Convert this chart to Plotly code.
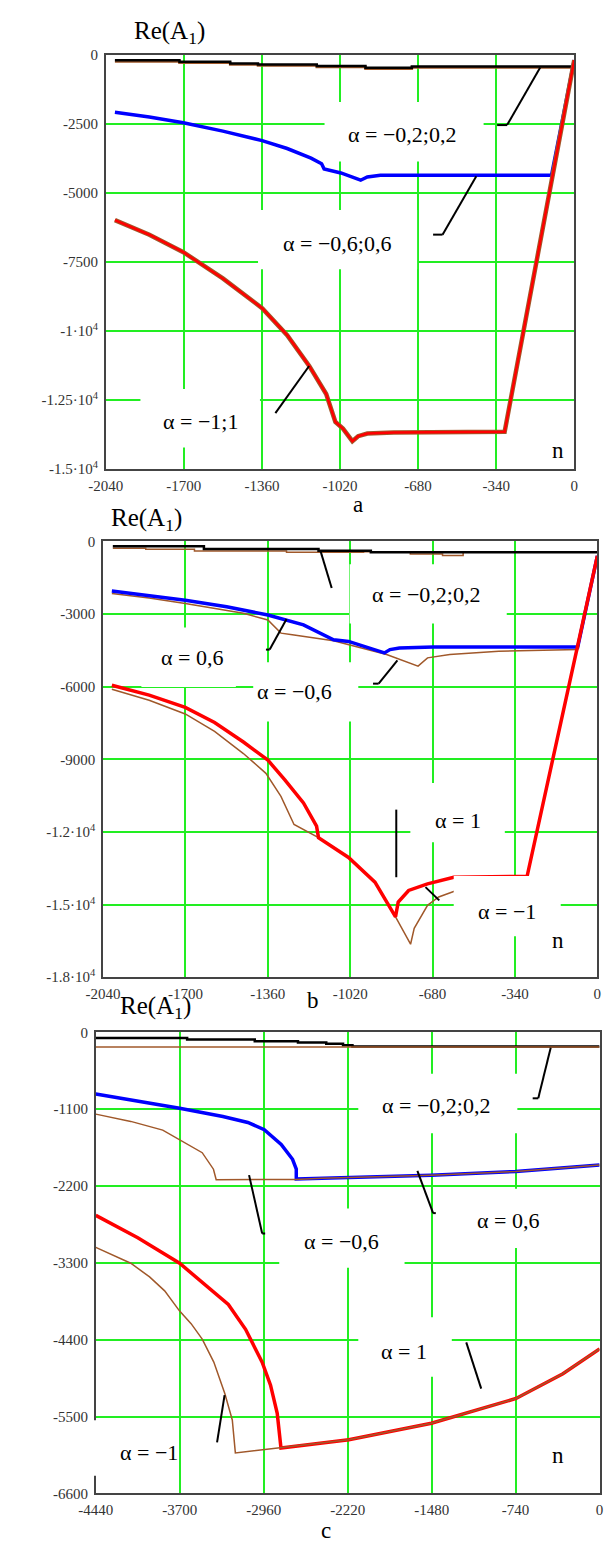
import plotly.graph_objects as go

W, H = 611, 1548

# ---------------- data ----------------
# panel a
a_x_tick = [-2040, -1700, -1360, -1020, -680, -340, 0]
a_y_tick = [0, -2500, -5000, -7500, -10000, -12500, -15000]
a_y_text = ["0", "-2500", "-5000", "-7500", "-1·10<sup>4</sup>", "-1.25·10<sup>4</sup>", "-1.5·10<sup>4</sup>"]

a_k02_x = [-2000, -1719, -1498, -1377, -1121, -909, -707, 0]
a_k02_y = [-204, -261, -322, -358, -418, -477, -430, -430]
a_m02_y = [-250, -300, -360, -400, -455, -515, -470, -470]

a_b06_x = [-2000, -1850, -1702, -1530, -1359, -1250, -1146, -1100, -1089, -1016, -930, -901, -844, -99, 0]
a_b06_y = [-2088, -2260, -2470, -2770, -3115, -3400, -3747, -3950, -4141, -4284, -4547, -4427, -4368, -4368, -200]

a_r1_x = [-2000, -1850, -1702, -1530, -1359, -1250, -1154, -1080, -1040, -1007, -966, -941, -901, -786, -303, 0]
a_r1_y = [-5990, -6520, -7150, -8100, -9176, -10150, -11266, -12279, -13293, -13532, -13986, -13807, -13711, -13675, -13650, -200]

# panel b
b_x_tick = [-2040, -1700, -1360, -1020, -680, -340, 0]
b_y_tick = [0, -3000, -6000, -9000, -12000, -15000, -18000]
b_y_text = ["0", "-3000", "-6000", "-9000", "-1.2·10<sup>4</sup>", "-1.5·10<sup>4</sup>", "-1.8·10<sup>4</sup>"]

b_k02_x = [-2000, -1624, -1151, -935, 0]
b_k02_y = [-204, -314, -382, -450, -450]
b_m02_x = [-2000, -1864, -1663, -1283, -965, -772, -639, -554, 0]
b_m02_y = [-286, -327, -395, -450, -423, -518, -586, -450, -450]

b_b06_x = [-2004, -1850, -1701, -1530, -1360, -1213, -1120, -1089, -1027, -879, -856, -817, -678, -81, 0]
b_b06_y = [-2044, -2220, -2426, -2700, -3039, -3448, -3925, -4061, -4129, -4606, -4469, -4402, -4361, -4361, -600]
b_m06_x = [-2004, -1850, -1701, -1461, -1360, -1306, -1259, -1089, -870, -740, -701, -609, -407, -81, 0]
b_m06_y = [-2153, -2340, -2562, -2971, -3243, -3788, -3856, -4101, -4674, -5151, -4810, -4674, -4538, -4469, -600]

b_r1_x = [-2004, -1850, -1701, -1580, -1461, -1360, -1290, -1213, -1159, -1151, -1027, -918, -833, -822, -779, -701, -593, -290, 0]
b_r1_y = [-5941, -6350, -6855, -7480, -8285, -9034, -9852, -10805, -11761, -12235, -13053, -14075, -15506, -14893, -14418, -14145, -13871, -13832, -600]
b_m1_x = [-2004, -1850, -1701, -1580, -1461, -1368, -1306, -1252, -1151, -1027, -918, -833, -771, -756, -701, -655, -593, -450, -290]
b_m1_y = [-6105, -6560, -7127, -7850, -8762, -9579, -10533, -11692, -12235, -13053, -14075, -15506, -16638, -15984, -15031, -14688, -14459, -14100, -13900]

# panel c
c_x_tick = [-4440, -3700, -2960, -2220, -1480, -740, 0]
c_y_tick = [0, -1100, -2200, -3300, -4400, -5500, -6600]
c_y_text = ["0", "-1100", "-2200", "-3300", "-4400", "-5500", "-6600"]

c_k02_x = [-4440, -3635, -3039, -2658, -2409, -2261, -2178, 0]
c_k02_y = [-80, -104, -127, -146, -165, -184, -203, -203]
c_m02_x = [-4440, 0]
c_m02_y = [-212, -212]

c_b06_x = [-4440, -4132, -3701, -3320, -3100, -2955, -2806, -2706, -2673, -2673, -2455, -1485, -739, 0]
c_b06_y = [-883, -967, -1086, -1204, -1290, -1393, -1605, -1817, -1959, -2100, -2090, -2044, -1992, -1898]
c_m06_x = [-4440, -4132, -3850, -3701, -3502, -3403, -3379, -3379, -2673, -2455, -1485, -739, 0]
c_m06_y = [-1171, -1275, -1400, -1534, -1723, -1959, -2100, -2110, -2105, -2090, -2044, -1992, -1898]

c_r1_x = [-4440, -4070, -3701, -3372, -3272, -3120, -2974, -2900, -2841, -2808, -2210, -1482, -1284, -736, -323, 0]
c_r1_y = [-2620, -2940, -3305, -3753, -3895, -4250, -4721, -5050, -5453, -5949, -5831, -5594, -5500, -5240, -4886, -4532]
c_m1_x = [-4440, -4132, -3966, -3833, -3701, -3600, -3502, -3400, -3303, -3237, -3210, -2974, -2808, -2210, -1482, -1284, -736, -323, 0]
c_m1_y = [-3078, -3305, -3500, -3700, -3990, -4170, -4390, -4720, -5170, -5548, -6019, -5973, -5949, -5831, -5594, -5500, -5240, -4886, -4532]

# ---------------- styling ----------------
BLUE, RED, BLACK, BROWN = "#0000ff", "#ff0000", "#000000", "#a0582a"
GRID = "#22ee22"
SERIF = "Liberation Serif, Times New Roman, serif"

# panel pixel frames (left, top, right, bottom)
frames = {
    "a": (91, 47, 577, 466),
    "b": (88.3, 539, 601, 979.3),
    "c": (80.7, 1035, 603.3, 1501),
}

fig = go.Figure()


def add(x, y, axis, color, width, shape="linear"):
    fig.add_trace(go.Scatter(x=x, y=y, mode="lines", xaxis="x" + axis, yaxis="y" + axis,
                             line=dict(color=color, width=width, shape=shape),
                             showlegend=False, hoverinfo="skip"))


# panel a
add(a_k02_x, a_m02_y, "", BROWN, 2.5, "hv")
add(a_k02_x, a_k02_y, "", BLACK, 2.5, "hv")
add(a_b06_x, a_b06_y, "", BLUE, 3.5)
add(a_r1_x, a_r1_y, "", BROWN, 4.5)
add(a_r1_x, a_r1_y, "", RED, 2.5)
# panel b
add(b_m02_x, b_m02_y, "2", BROWN, 1.5, "hv")
add(b_k02_x, b_k02_y, "2", BLACK, 2.5, "hv")
add(b_m06_x, b_m06_y, "2", BROWN, 1.5)
add(b_b06_x, b_b06_y, "2", BLUE, 3.5)
add(b_m1_x, b_m1_y, "2", BROWN, 1.5)
add(b_r1_x, b_r1_y, "2", RED, 3.5)
# panel c
add(c_k02_x, c_k02_y, "3", BLACK, 2.5, "hv")
add(c_m02_x, c_m02_y, "3", BROWN, 1.5)
add(c_b06_x, c_b06_y, "3", BLUE, 3.5)
add(c_m06_x, c_m06_y, "3", BROWN, 1.5)
add(c_r1_x, c_r1_y, "3", RED, 3.5)
add(c_m1_x, c_m1_y, "3", BROWN, 1.5)


def axis_pair(frame, xt, yt, ytext, xr, yr, suffix):
    l, t, r, b = frame
    common = dict(showgrid=True, gridcolor=GRID, gridwidth=1.5, zeroline=False,
                  showline=True, linecolor="#444444", linewidth=1.5, mirror=True,
                  ticks="", tickfont=dict(family=SERIF, size=15, color="#333333"),
                  fixedrange=True, ticklabeloverflow="allow")
    xa = dict(common, domain=[l / W, r / W], range=xr, tickvals=xt,
              ticktext=[str(v) for v in xt], anchor="y" + suffix, ticklabelstandoff=2)
    ya = dict(common, domain=[1 - b / H, 1 - t / H], range=yr, tickvals=yt,
              ticktext=ytext, anchor="x" + suffix, ticklabelstandoff=3)
    return xa, ya


xa, ya = axis_pair(frames["a"], a_x_tick, a_y_tick, a_y_text, [-2040, 0], [-15000, 0], "")
xb, yb = axis_pair(frames["b"], b_x_tick, b_y_tick, b_y_text, [-2040, 0], [-18000, 0], "2")
xc, yc = axis_pair(frames["c"], c_x_tick, c_y_tick, c_y_text, [-4440, 0], [-6600, 0], "3")


def px(x):
    return x / W


def py(y):
    return 1 - y / H


shapes = []
# white boxes of the text regions (hide the grid)
boxes = [
    (318, 95, 483, 155), (249, 204, 414, 264), (127, 385, 251, 444),
    (344, 562, 507, 622), (128, 626, 226, 686), (244, 661, 353, 721),
    (407, 783, 505, 843), (452, 877, 563, 938),
    (353, 1077, 518, 1137), (450, 1193, 568, 1253), (271, 1213, 401, 1273),
    (353, 1323, 450, 1383), (75, 1427, 167, 1483),
]
for x0, y0, x1, y1 in boxes:
    shapes.append(dict(type="rect", xref="paper", yref="paper", layer="above",
                       x0=px(x0), x1=px(x1), y0=py(y1), y1=py(y0),
                       fillcolor="white", line=dict(width=0)))

leaders = [
    [(541.7, 60), (507.3, 118.3), (497, 118.3)],
    [(475.4, 170), (440.4, 229), (430.6, 229)],
    [(302, 361.7), (267, 409.3)],
    [(313.7, 548.3), (325.4, 586)],
    [(278.6, 617.3), (261.1, 648.3), (257.2, 648.3)],
    [(393.6, 659.3), (374.1, 682.7), (368.3, 682.7)],
    [(392.4, 810), (392.4, 878.3)],
    [(422.7, 888.3), (437, 901.7)],
    [(552.6, 1050.7), (539.7, 1101.7), (533.9, 1101.7)],
    [(239.7, 1179.3), (253.3, 1238.3), (256.4, 1238.3)],
    [(414.3, 1175), (430.6, 1217.7), (433.4, 1217.7)],
    [(465, 1348.3), (480.5, 1395)],
    [(214.3, 1401.7), (206.5, 1449.3)],
]
for pts in leaders:
    for (x0, y0), (x1, y1) in zip(pts[:-1], pts[1:]):
        shapes.append(dict(type="line", xref="paper", yref="paper", layer="above",
                           x0=px(x0), y0=py(y0), x1=px(x1), y1=py(y1),
                           line=dict(color="black", width=2)))

annotations = []


def txt(s, x, y, size):
    annotations.append(dict(text=s, x=px(x), y=py(y), xref="paper", yref="paper",
                            xanchor="center", yanchor="middle", showarrow=False,
                            font=dict(family=SERIF, size=size, color="black")))


labels = [
    ("α = −0,2;0,2", 398.5, 128), ("α = −0,6;0,6", 331, 238), ("α = −1;1", 189, 418),
    ("α = −0,2;0,2", 423.6, 593), ("α = 0,6", 181, 656), ("α = −0,6", 287, 691),
    ("α = 1", 456, 821), ("α = −1", 507.7, 913),
    ("α = −0,2;0,2", 433.6, 1109), ("α = 0,6", 508.6, 1225), ("α = −0,6", 336, 1246),
    ("α = 1", 400.5, 1358), ("α = −1", 136, 1460),
]
for s, x, y in labels:
    txt(s, x, y, 22)

for x, y in [(560, 447), (560, 942), (560, 1463)]:
    txt("n", x, y, 23)
for x, y in [(157, 25), (133, 517), (143, 1010)]:
    txt("Re(A<sub>1</sub>)", x, y, 25)
for s, x, y in [("a", 353, 502), ("b", 306, 1003), ("c", 319, 1538)]:
    txt(s, x, y, 23)

fig.update_layout(
    width=W, height=H, autosize=False,
    margin=dict(l=0, r=0, t=0, b=0, pad=0),
    paper_bgcolor="white", plot_bgcolor="white",
    xaxis=xa, yaxis=ya, xaxis2=xb, yaxis2=yb, xaxis3=xc, yaxis3=yc,
    shapes=shapes, annotations=annotations, showlegend=False,
)

fig.write_html("out.html", config={"displayModeBar": False},
               post_script="document.body.style.margin='0px';")
